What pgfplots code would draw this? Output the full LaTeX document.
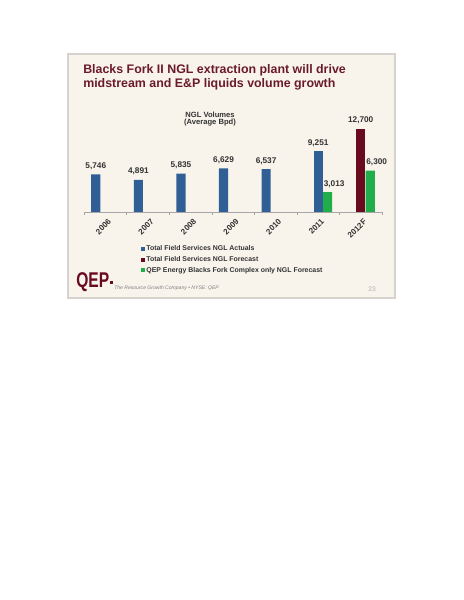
\documentclass[border=0pt]{standalone}
\usepackage{fontspec}
\setmainfont{Liberation Sans}
\usepackage{pgfplots}
\pgfplotsset{compat=1.18}

\definecolor{qblue}{HTML}{2F5F95}
\definecolor{qred}{HTML}{6A0A1E}
\definecolor{qgreen}{HTML}{20AD4A}
\definecolor{titlered}{HTML}{6B1A2B}
\definecolor{slidebg}{HTML}{F8F4EC}
\definecolor{slideframe}{HTML}{D6D3CE}
\definecolor{labgray}{HTML}{333333}

\pgfplotsset{
  sq legend/.style={legend image code/.code={\fill[##1] (0pt,-1.5pt) rectangle (3pt,1.5pt);}},
  qbar/.style={ybar, bar width=6.9pt, draw=none, sq legend},
}

\begin{document}
\begin{tikzpicture}
\begin{scope}[x=0.75pt,y=0.75pt]
  % page and slide, coordinates in pixels, y counted from the bottom
  \useasboundingbox (0,0) rectangle (464,600);
  \fill[white] (0,0) rectangle (464,600);
  \filldraw[fill=slidebg, draw=slideframe, line width=1.5pt] (68,302) rectangle (395,546);

  \node[anchor=base west, inner sep=0, text=titlered, font=\fontsize{9.3}{11}\selectfont\bfseries]
    at (83,526) {Blacks Fork II NGL extraction plant will drive};
  \node[anchor=base west, inner sep=0, text=titlered, font=\fontsize{9.3}{11}\selectfont\bfseries]
    at (83,512) {midstream and E\&P liquids volume growth};

  \node[align=center, inner sep=0, text=labgray, font=\fontsize{5.7}{5.4}\selectfont\bfseries]
    at (210,481) {NGL Volumes\\(Average Bpd)};

  % footer
  \node[anchor=south west, inner sep=0, text=qred, font=\fontsize{16}{16}\selectfont\bfseries]
    at (76,308) {\scalebox{0.73}[1]{QEP}};
  \fill[qred] (109.5,316) rectangle (112.5,318.5);
  \node[anchor=base west, inner sep=0, text=gray, font=\fontsize{3.8}{4}\selectfont\itshape]
    at (114,310) {The Resource Growth Company • NYSE: QEP};
  \node[inner sep=0, text=gray!60, font=\fontsize{5}{5}\selectfont] at (372,311) {23};
\end{scope}

\begin{axis}[
  at={(63pt,291pt)}, anchor=south west,
  scale only axis, width=223.5pt, height=68.9pt,
  xmin=-0.5, xmax=6.5, ymin=0, ymax=14000,
  clip=false,
  axis x line=bottom, axis y line=none,
  x axis line style={draw=gray!70, -},
  xtick={0,...,6},
  xticklabels={2006,2007,2008,2009,2010,2011,2012F},
  minor xtick={-0.5,0.5,...,6.5},
  major tick length=0pt, minor tick length=2.5pt,
  tick align=outside,
  minor tick style={draw=gray!70},
  x tick label style={rotate=45, anchor=north east, inner sep=0.5pt,
    yshift=-4pt, xshift=-1.5pt,
    font=\fontsize{6}{6}\selectfont\bfseries, text=labgray},
  /pgf/number format/.cd, fixed, precision=0, 1000 sep={,}, assume math mode=true,
  /pgfplots/.cd,
  nodes near coords,
  every node near coord/.append style={font=\fontsize{6.2}{7}\selectfont\bfseries, text=labgray},
  legend cell align=left,
  legend style={draw=none, fill=none, at={(0.178,-0.32)}, anchor=north west,
    font=\fontsize{5.2}{6}\selectfont\bfseries, text=labgray,
    row sep=1.2pt, nodes={inner sep=0.8pt, text height=4pt, text depth=1.2pt}},
]
\addplot[qbar, fill=qblue, bar shift=-7.1pt,
  every node near coord/.append style={xshift=-7.1pt}] coordinates {
  (0,5746) (1,4891) (2,5835) (3,6629) (4,6537)
};
\addplot[qbar, fill=qblue, bar shift=0pt, forget plot] coordinates {
  (5,9251)
};
\addplot[qbar, fill=qred, bar shift=0pt] coordinates {
  (6,12700)
};
\addplot[qbar, fill=qgreen, bar shift=7.1pt,
  every node near coord/.append style={xshift=12pt}] coordinates {
  (5,3013) (6,6300)
};
\legend{Total Field Services NGL Actuals, Total Field Services NGL Forecast, QEP Energy Blacks Fork Complex only NGL Forecast}
\end{axis}
\end{tikzpicture}
\end{document}
